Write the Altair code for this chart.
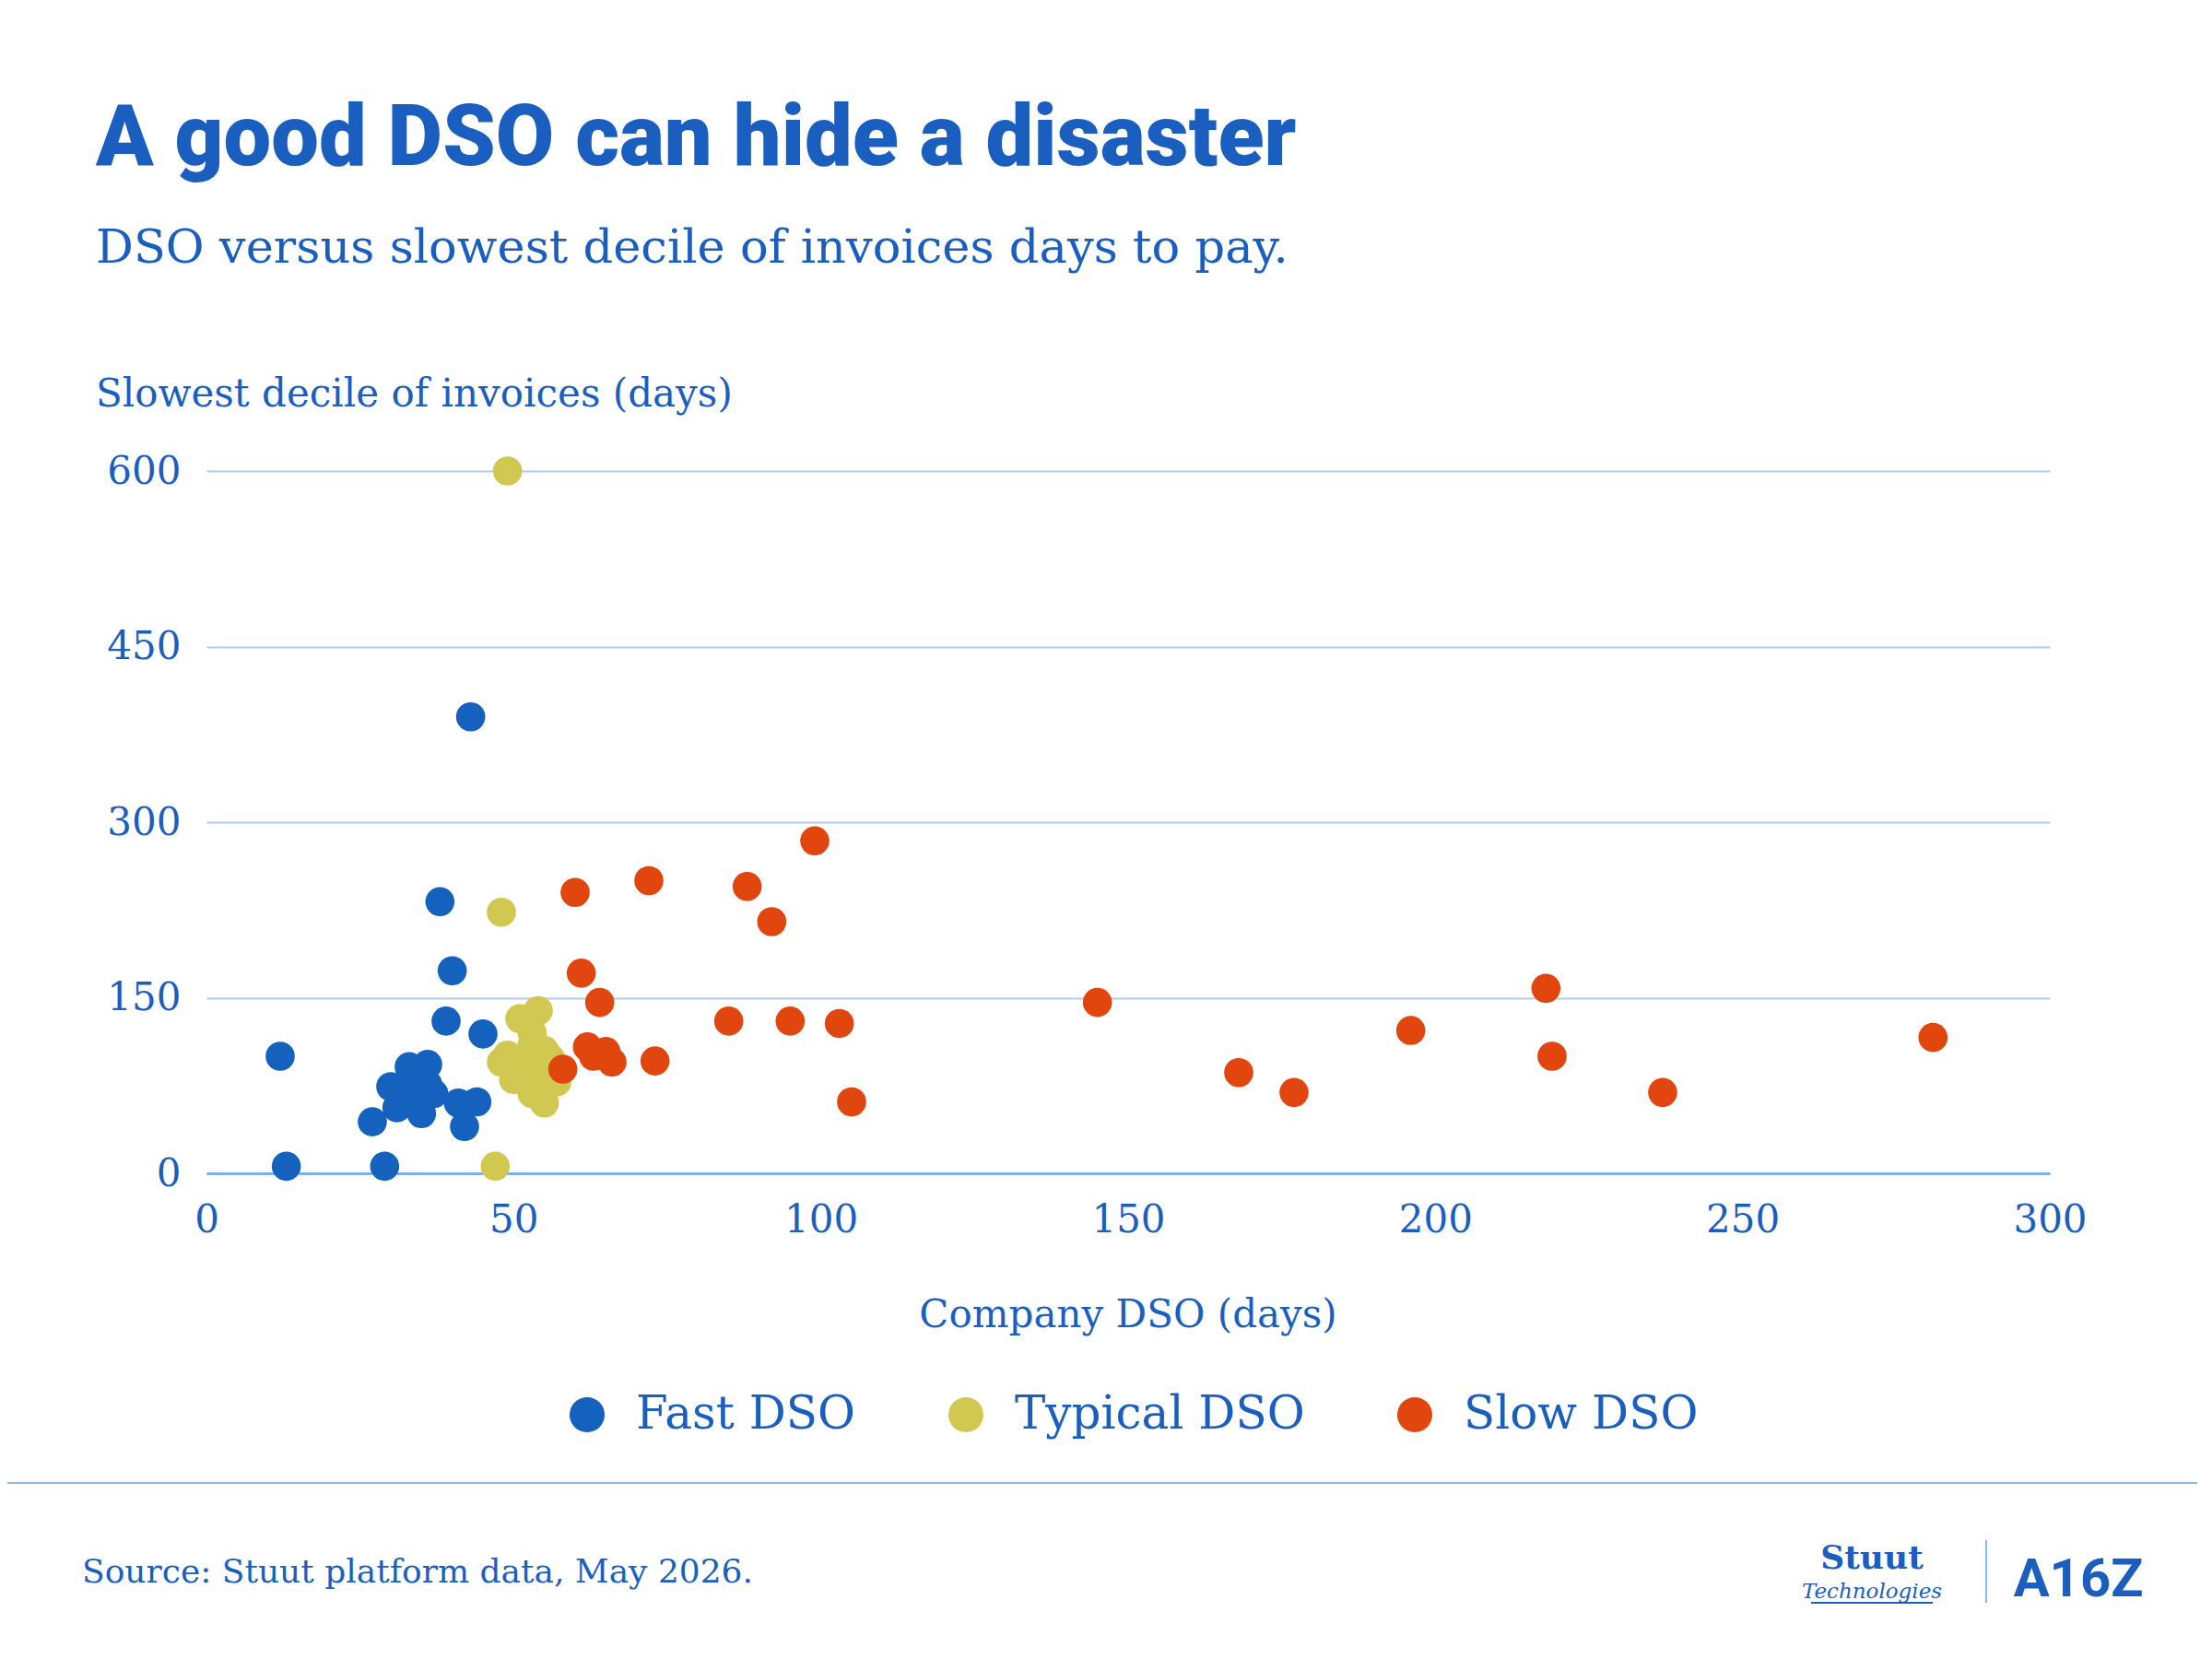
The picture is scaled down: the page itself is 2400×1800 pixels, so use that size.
import altair as alt
import pandas as pd

# ---------------- data ----------------
categories = ["Fast DSO", "Typical DSO", "Slow DSO"]
colors = ["#1461BE", "#D1C852", "#E2460F"]

fast_x = [12, 13, 29, 27, 30, 31, 33, 33, 34, 35, 36, 36, 37, 38, 39, 40, 41, 42, 43, 44, 45]
fast_y = [100, 6, 6, 44, 74, 56, 91, 80, 66, 51, 93, 76, 68, 232, 130, 173, 60, 40, 390, 61, 119]

typical_x = [49, 48, 47, 54, 51, 53, 49, 51, 53, 55, 56, 50, 52, 54, 57, 55, 53, 48,
             52, 54, 56, 50]
typical_y = [600, 223, 6, 139, 132, 120, 101, 92, 110, 105, 98, 80, 84, 75, 78, 60, 68, 95,
             100, 88, 86, 90]

slow_x = [58, 60, 61, 62, 63, 64, 65, 66, 72, 73, 85, 88, 92, 95, 99, 103, 105,
          145, 168, 177, 196, 218, 219, 237, 281]
slow_y = [89, 240, 171, 108, 100, 146, 104, 95, 250, 96, 130, 245, 215, 130, 284, 128, 61,
          146, 86, 69, 122, 158, 100, 69, 116]

x_ticks = [0, 50, 100, 150, 200, 250, 300]
y_ticks = [0, 150, 300, 450, 600]

title_text = "A good DSO can hide a disaster"
subtitle_text = "DSO versus slowest decile of invoices days to pay."
y_title_text = "Slowest decile of invoices (days)"
x_title_text = "Company DSO (days)"
source_text = "Source: Stuut platform data, May 2026."

rows = []
i = 0
for cat, xs, ys in zip(categories, [fast_x, typical_x, slow_x], [fast_y, typical_y, slow_y]):
    for xv, yv in zip(xs, ys):
        rows.append({"dso": xv, "slowest": yv, "group": cat, "idx": i})
        i += 1
df = pd.DataFrame(rows)

# ---------------- styling ----------------
W, H = 2000, 762
TEXT = "#1A5FBF"
SERIF = "DejaVu Serif"
SANS = "Roboto"
one = pd.DataFrame({"k": [0]})

points = alt.Chart(df).mark_circle(size=1000, opacity=1).encode(
    x=alt.X(
        "dso:Q",
        scale=alt.Scale(domain=[0, 300], nice=False, zero=True),
        axis=alt.Axis(
            values=x_ticks, title=None, grid=False, domain=True,
            domainColor="#7FB2EA", domainWidth=3, ticks=False,
            labelFontSize=42, labelFont=SERIF, labelColor=TEXT, labelPadding=30,
            labelFlush=False, labelOverlap=False,
        ),
    ),
    y=alt.Y(
        "slowest:Q",
        scale=alt.Scale(domain=[0, 600], nice=False),
        axis=alt.Axis(
            values=y_ticks, title=None, grid=True, gridColor="#AFCBF0", gridWidth=2,
            domain=False, ticks=False, labelFlush=False, labelOverlap=False,
            labelFontSize=42, labelFont=SERIF, labelColor=TEXT, labelPadding=28,
        ),
    ),
    color=alt.Color(
        "group:N",
        scale=alt.Scale(domain=categories, range=colors),
        legend=alt.Legend(
            orient="none", legendX=388, legendY=999, direction="horizontal",
            title=None, symbolType="circle", symbolSize=1450, symbolStrokeWidth=0,
            symbolOpacity=1, labelFontSize=50, labelFont=SERIF, labelColor=TEXT,
            labelOffset=28, columnPadding=94, padding=0, labelLimit=0,
        ),
    ),
    order=alt.Order("idx:Q"),
)


def label(text, x, y, size, font=SERIF, weight="normal", align="left", style="normal"):
    return alt.Chart(one).mark_text(
        text=text, align=align, baseline="alphabetic", fontSize=size, font=font,
        fontWeight=weight, fontStyle=style, color=TEXT,
    ).encode(x=alt.value(x), y=alt.value(y))


def rule(x1, x2, y1, y2, color, width):
    return alt.Chart(one).mark_rule(color=color, strokeWidth=width).encode(
        x=alt.value(x1), x2=alt.value(x2), y=alt.value(y1), y2=alt.value(y2)
    )


layers = [
    points,
    label(title_text, -120, -332, 92, font=SANS, weight=900),
    label(subtitle_text, -120, -226, 51),
    label(y_title_text, -120, -70, 42),
    label(x_title_text, 1000, 929, 42, align="center"),
    rule(-230, 2170, 1098, 1098, "#8DB8EA", 2),
    label(source_text, -135, 1206, 36),
    label("Stuut", 1807, 1191, 36, weight="bold", align="center"),
    label("Technologies", 1807, 1223, 23, style="italic", align="center"),
    rule(1741, 1873, 1228, 1228, TEXT, 2),
    rule(1931, 1931, 1160, 1228, "#8DB8EA", 2),
    label("A16Z", 2031, 1221, 58, font=SANS, weight="bold", align="center"),
]

chart = alt.layer(*layers).properties(
    width=W,
    height=H,
    padding={"left": 216, "top": 503, "right": 160, "bottom": 511},
    autosize=alt.AutoSizeParams(type="none"),
    background="white",
).configure_view(stroke=None)

chart.save("out.html", embed_options={"renderer": "svg", "actions": False})
